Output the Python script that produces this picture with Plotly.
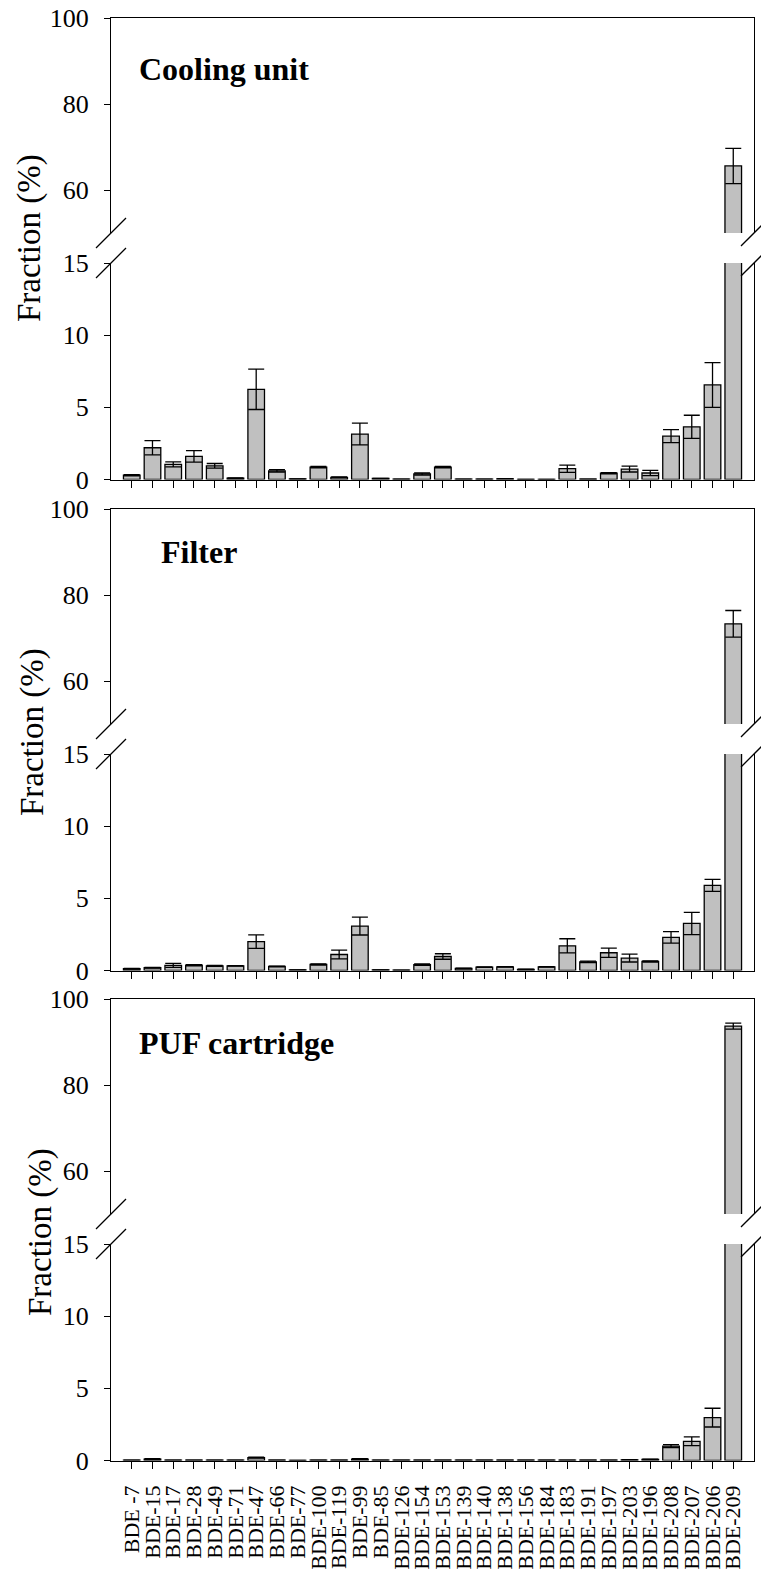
import plotly.graph_objects as go

categories = ["BDE -7", "BDE-15", "BDE-17", "BDE-28", "BDE-49", "BDE-71", "BDE-47", "BDE-66",
              "BDE-77", "BDE-100", "BDE-119", "BDE-99", "BDE-85", "BDE-126", "BDE-154", "BDE-153",
              "BDE-139", "BDE-140", "BDE-138", "BDE-156", "BDE-184", "BDE-183", "BDE-191", "BDE-197",
              "BDE-203", "BDE-196", "BDE-208", "BDE-207", "BDE-206", "BDE-209"]

cooling_mean = [0.3, 2.2, 1.05, 1.6, 0.95, 0.09, 6.25, 0.6, 0.04, 0.85, 0.15, 3.15, 0.07, 0.02, 0.38,
                0.85, 0.02, 0.02, 0.05, 0.01, 0.01, 0.75, 0.03, 0.44, 0.72, 0.45, 3.0, 3.65, 6.55, 65.6]
cooling_sd = [0.04, 0.5, 0.17, 0.4, 0.16, 0.02, 1.4, 0.08, 0.01, 0.05, 0.03, 0.75, 0.01, 0.0, 0.07,
              0.05, 0.0, 0.0, 0.01, 0.0, 0.0, 0.25, 0.0, 0.04, 0.2, 0.18, 0.45, 0.8, 1.55, 4.1]

filter_mean = [0.12, 0.19, 0.35, 0.37, 0.32, 0.32, 2.0, 0.28, 0.05, 0.42, 1.11, 3.08, 0.05, 0.03, 0.4,
               0.97, 0.14, 0.23, 0.25, 0.08, 0.25, 1.71, 0.6, 1.23, 0.86, 0.63, 2.29, 3.26, 5.9, 73.3]
filter_sd = [0.02, 0.03, 0.14, 0.04, 0.03, 0.02, 0.47, 0.03, 0.0, 0.04, 0.3, 0.62, 0.0, 0.0, 0.05,
             0.19, 0.02, 0.02, 0.02, 0.01, 0.02, 0.49, 0.05, 0.32, 0.27, 0.04, 0.4, 0.77, 0.42, 3.1]

puf_mean = [0.02, 0.1, 0.02, 0.02, 0.02, 0.02, 0.2, 0.02, 0.01, 0.02, 0.02, 0.1, 0.02, 0.02, 0.02,
            0.02, 0.02, 0.02, 0.02, 0.02, 0.02, 0.02, 0.02, 0.02, 0.05, 0.08, 1.0, 1.33, 2.97, 93.7]
puf_sd = [0.0, 0.03, 0.0, 0.0, 0.0, 0.0, 0.04, 0.0, 0.0, 0.0, 0.0, 0.02, 0.0, 0.0, 0.0,
          0.0, 0.0, 0.0, 0.0, 0.0, 0.0, 0.0, 0.0, 0.0, 0.01, 0.01, 0.1, 0.3, 0.65, 0.7]

panel_names = ["Cooling unit", "Filter", "PUF cartridge"]
upper_ticks = [60, 80, 100]
lower_ticks = [0, 5, 10, 15]

W, H = 761, 1569
FONT = "Liberation Serif, Times New Roman, serif"


def py(p):
    return 1 - p / H


def px(p):
    return p / W


xl, xr = 111, 754
panel_tops = [18, 509, 999]
label_pos = [(137, 69), (159, 552), (137, 1043)]
title_pos = [(30, 238), (32, 732), (40, 1232)]
series = [(cooling_mean, cooling_sd), (filter_mean, filter_sd), (puf_mean, puf_sd)]

fig = go.Figure()
layout = dict(
    width=W, height=H, margin=dict(l=0, r=0, t=0, b=0),
    paper_bgcolor="white", plot_bgcolor="white", showlegend=False,
    bargap=0.2, font=dict(family=FONT, color="black"),
)
shapes = []
annotations = []


def key(a, kind):
    return kind + ("axis" if a in ("x", "y") else "axis" + a[1:])


for i, (mean, sd) in enumerate(series):
    top = panel_tops[i]
    up_dom = [py(top + 215), py(top)]
    lo_dom = [py(top + 461.5), py(top + 245)]
    xb = "x" if i == 0 else f"x{2 * i + 1}"
    xt = f"x{2 * i + 2}"
    yl = "y" if i == 0 else f"y{2 * i + 1}"
    yu = f"y{2 * i + 2}"

    for xa, ya in [(xb, yl), (xt, yu)]:
        fig.add_trace(go.Bar(
            x=categories, y=mean, xaxis=xa, yaxis=ya, width=0.8,
            marker=dict(color="#c0c0c0", line=dict(color="black", width=1.3)),
            error_y=dict(type="data", array=sd, visible=True, color="black",
                         thickness=1.3, width=8),
        ))

    layout[key(xb, "x")] = dict(
        domain=[px(xl), px(xr)], anchor=yl, type="category", range=[-1, 30],
        tickmode="array", tickvals=categories, ticktext=categories,
        showline=True, linecolor="black", linewidth=1.3, ticks="outside", ticklen=7,
        tickcolor="black", tickwidth=1.3, showgrid=False, zeroline=False,
        showticklabels=(i == 2), tickangle=-90, automargin=False,
        tickfont=dict(family=FONT, size=22, color="black"), ticklabelstandoff=8,
        ticklabeloverflow="allow",
    )
    layout[key(xt, "x")] = dict(
        domain=[px(xl), px(xr)], anchor=yu, type="category", range=[-1, 30],
        side="top", showline=True, linecolor="black", linewidth=1.3, ticks="",
        showticklabels=False, showgrid=False, zeroline=False, automargin=False,
    )
    layout[key(yl, "y")] = dict(
        domain=lo_dom, anchor=xb, range=[0, 15], tickvals=lower_ticks,
        showline=True, mirror=True, linecolor="black", linewidth=1.3,
        ticks="outside", ticklen=6, tickcolor="black", tickwidth=1.3,
        showgrid=False, zeroline=False, automargin=False,
        tickfont=dict(family=FONT, size=26, color="black"), ticklabelstandoff=10,
        ticklabeloverflow="allow",
    )
    layout[key(yu, "y")] = dict(
        domain=up_dom, anchor=xt, range=[50, 100], tickvals=upper_ticks,
        showline=True, mirror=True, linecolor="black", linewidth=1.3,
        ticks="outside", ticklen=6, tickcolor="black", tickwidth=1.3,
        showgrid=False, zeroline=False, automargin=False,
        tickfont=dict(family=FONT, size=26, color="black"), ticklabelstandoff=10,
        ticklabeloverflow="allow",
    )

    # axis break marks
    for cy in (top + 215, top + 245):
        shapes.append(dict(type="line", xref="paper", yref="paper",
                           x0=px(xl - 15), y0=py(cy + 15), x1=px(xl + 15), y1=py(cy - 15),
                           line=dict(color="black", width=1.3)))
        shapes.append(dict(type="line", xref="paper", yref="paper",
                           x0=px(xr - 13), y0=py(cy + 13), x1=px(xr + 17), y1=py(cy - 17),
                           line=dict(color="black", width=1.3)))

    lx, ly = label_pos[i]
    annotations.append(dict(text="<b>" + panel_names[i] + "</b>", xref="paper", yref="paper",
                            x=px(lx), y=py(ly), xanchor="left", yanchor="middle",
                            showarrow=False, font=dict(family=FONT, size=32, color="black")))
    tx, ty = title_pos[i]
    annotations.append(dict(text="Fraction (%)", xref="paper", yref="paper",
                            x=px(tx), y=py(ty), xanchor="center", yanchor="middle",
                            textangle=-90, showarrow=False,
                            font=dict(family=FONT, size=33, color="black")))

layout["shapes"] = shapes
layout["annotations"] = annotations
fig.update_layout(**layout)
fig.write_html("out.html", config={"displayModeBar": False},
               post_script="document.body.style.margin='0';document.body.style.overflow='hidden';")
